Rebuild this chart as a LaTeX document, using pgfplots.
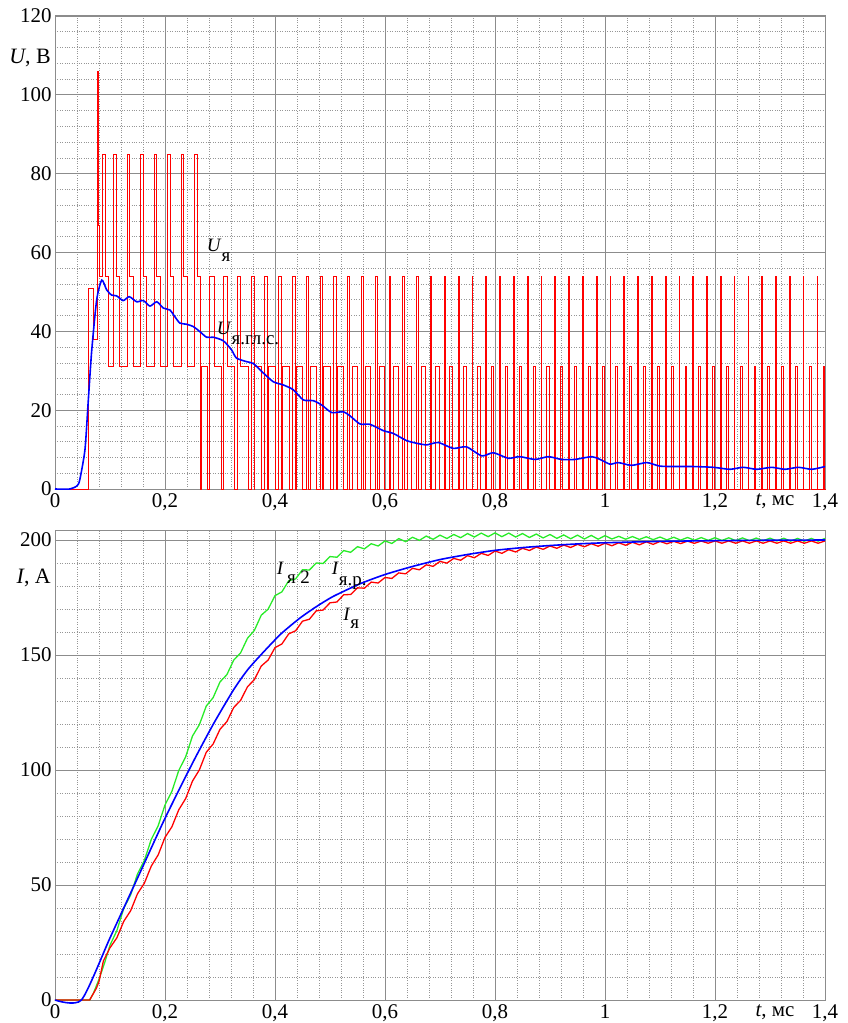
\documentclass[border=0pt]{standalone}
\usepackage{fontspec}
\setmainfont{Liberation Serif}
\newfontfamily\tnr{Liberation Serif}
\usepackage{pgfplots}
\pgfplotsset{compat=1.18}
\definecolor{gridmaj}{RGB}{140,140,140}
\definecolor{gridmin}{RGB}{150,150,150}
\definecolor{mygreen}{RGB}{40,235,40}
\definecolor{myred}{RGB}{255,0,0}
\definecolor{myblue}{RGB}{0,0,255}
\newcommand{\lab}{\tnr\fontsize{21}{24}\selectfont}
\newcommand{\ann}{\tnr\fontsize{19}{22}\selectfont}
\pgfplotsset{myax/.style={
  scale only axis, width=770bp, xmin=0, xmax=1.4,
  xtick={0,0.2,0.4,0.6,0.8,1,1.2,1.4},
  minor x tick num=4, minor y tick num=4,
  grid=both,
  major grid style={draw=gridmaj, line width=0.7pt},
  minor grid style={draw=gridmin, dotted, line width=0.6pt},
  axis line style={draw=gridmaj, line width=1pt},
  tick style={draw=none},
  tick label style={font=\lab},
  xticklabel style={yshift=-1.5bp},
  /pgf/number format/use comma,
  /pgf/number format/assume math mode=true,
  clip=false,
}}
\begin{document}
\begin{tikzpicture}[x=1bp,y=1bp]
\begin{axis}[myax, at={(0,0)}, anchor=south west, height=473bp,
  ymin=0, ymax=120, ytick={0,20,40,60,80,100,120}]
\addplot[myred, line width=0.7pt, const plot mark left] coordinates {
(0,0) (0.0606,51) (0.0697,38) (0.0765,106) (0.0785,67) (0.0815,54)
(0.086,85) (0.0908,54) (0.0968,31)
(0.106,85) (0.1108,54) (0.1168,31)
(0.131,85) (0.1358,54) (0.1418,31)
(0.1555,85) (0.1603,54) (0.1663,31)
(0.180,85) (0.1848,54) (0.1908,31)
(0.2045,85) (0.2093,54) (0.2153,31)
(0.229,85) (0.2338,54) (0.2398,31)
(0.2535,85) (0.2583,54) (0.264,0) (0.266,31) (0.277,0)
(0.281,54) (0.290,31) (0.303,0)
(0.3061,54) (0.3126,31) (0.3261,0)
(0.3312,54) (0.3372,31) (0.3507,0)
(0.3563,54) (0.3618,0) (0.3621,31) (0.3756,0)
(0.3814,54) (0.3864,0) (0.3874,31) (0.4004,0)
(0.4065,54) (0.4115,0) (0.4128,31) (0.4253,0)
(0.4316,54) (0.4361,0) (0.4381,31) (0.4501,0)
(0.4567,54) (0.4612,0) (0.4635,31) (0.4750,0)
(0.4818,54) (0.4858,0) (0.4888,31) (0.4998,0)
(0.5069,54) (0.5109,0) (0.5142,31) (0.5247,0)
(0.5320,54) (0.5355,0) (0.5398,31) (0.5493,0)
(0.5571,54) (0.5606,0) (0.5651,31) (0.5741,0)
(0.5822,54) (0.5852,0) (0.5905,31) (0.5990,0)
(0.6073,54) (0.6103,0) (0.6158,31) (0.6238,0)
(0.6324,54) (0.6349,0) (0.6412,31) (0.6487,0)
(0.6575,54) (0.6600,0) (0.6665,31) (0.6735,0)
(0.6826,54) (0.6848,0) (0.6919,31) (0.6984,0)
(0.7077,54) (0.7097,0) (0.7172,31) (0.7232,0)
(0.7328,54) (0.7348,0) (0.7426,31) (0.7481,0)
(0.7579,54) (0.7596,0) (0.7682,31) (0.7727,0)
(0.7830,54) (0.7847,0) (0.7933,31) (0.7978,0)
(0.8081,54) (0.8096,0) (0.8186,31) (0.8226,0)
(0.8332,54) (0.8347,0) (0.8437,31) (0.8477,0)
(0.8583,54) (0.8598,0) (0.8688,31) (0.8728,0)
(0.8834,54) (0.8849,0) (0.8939,31) (0.8979,0)
(0.9085,54) (0.9100,0) (0.9190,31) (0.9230,0)
(0.9336,54) (0.9351,0) (0.9441,31) (0.9481,0)
(0.9587,54) (0.9602,0) (0.9692,31) (0.9732,0)
(0.9838,54) (0.9853,0) (0.9943,31) (0.9983,0)
(1.0089,54) (1.0103,0) (1.0197,31) (1.0232,0)
(1.0340,54) (1.0354,0) (1.0448,31) (1.0483,0)
(1.0591,54) (1.0605,0) (1.0699,31) (1.0734,0)
(1.0842,54) (1.0856,0) (1.0950,31) (1.0985,0)
(1.1093,54) (1.1107,0) (1.1201,31) (1.1236,0)
(1.1344,54) (1.1358,0) (1.1452,31) (1.1487,0)
(1.1595,54) (1.1609,0) (1.1703,31) (1.1738,0)
(1.1846,54) (1.1860,0) (1.1954,31) (1.1989,0)
(1.2097,54) (1.2109,0) (1.2207,31) (1.2237,0)
(1.2348,54) (1.2360,0) (1.2458,31) (1.2488,0)
(1.2599,54) (1.2611,0) (1.2709,31) (1.2739,0)
(1.2850,54) (1.2862,0) (1.2960,31) (1.2990,0)
(1.3101,54) (1.3113,0) (1.3211,31) (1.3241,0)
(1.3352,54) (1.3364,0) (1.3462,31) (1.3492,0)
(1.3603,54) (1.3615,0) (1.3713,31) (1.3743,0)
(1.3854,54) (1.3866,0) (1.3964,31) (1.3994,0)
(1.4,0)
};
\addplot[myblue, line width=1.6pt, smooth, tension=0.4] coordinates {
(0,0) (0.027,0) (0.04,0.8) (0.045,2.3) (0.0545,10) (0.0606,22.6) (0.0667,35)
(0.0758,48) (0.085,53) (0.094,50.5) (0.103,49.2) (0.112,49) (0.124,47.8)
(0.135,48.8) (0.1485,47.5) (0.1606,47.8) (0.1727,46.4) (0.185,47.5) (0.197,45.9)
(0.209,45.4) (0.218,43.7) (0.227,42.1) (0.239,41.8) (0.2515,41.2) (0.2636,39.9)
(0.2757,38.5) (0.288,38.5) (0.306,37.6) (0.321,35.3) (0.33,33.2) (0.3485,32.3)
(0.361,31.8) (0.379,29.4) (0.397,27.2) (0.415,26.4) (0.433,25.2) (0.4515,22.6)
(0.4697,22.4) (0.485,21.3) (0.503,19.4) (0.524,19.6) (0.536,18.6) (0.5545,16.5)
(0.573,16.4) (0.597,14.8) (0.615,14.1) (0.639,12.3) (0.6576,11.6) (0.676,11.2)
(0.697,11.8) (0.724,10.3) (0.748,10.7) (0.776,8.4) (0.797,9.2) (0.824,7.8)
(0.845,8.2) (0.873,7.5) (0.897,8.2) (0.921,7.5) (0.945,7.5) (0.976,8.2)
(0.991,7.5) (1.009,6.3) (1.024,6.7) (1.0485,6.0) (1.076,6.7) (1.1,5.8)
(1.13,5.7) (1.16,5.7) (1.197,5.5) (1.227,5.0) (1.251,5.5) (1.276,5.0)
(1.303,5.5) (1.327,5.0) (1.3515,5.5) (1.376,5.0) (1.4,5.7)
};
\node[anchor=base west, inner sep=0, font=\ann] at (axis cs:0.2758,60.2) {\textit{U}\raisebox{-10bp}{я}};
\node[anchor=base west, inner sep=0, font=\ann] at (axis cs:0.294,39.1) {\textit{U}\raisebox{-10bp}{я.гл.с.}};
\node[anchor=east, inner sep=0, font=\tnr\fontsize{22}{26}\selectfont] at ([xshift=-4bp]axis cs:0,109.4) {\textit{U}, В};
\node[anchor=north, font=\lab, yshift=-1.5bp] at (axis cs:1.309,0) {\textit{t}, мс};
\end{axis}
\begin{axis}[myax, at={(0,-41bp)}, anchor=north west, height=470bp,
  ymin=0, ymax=204.35, ytick={0,50,100,150,200}]
\addplot[mygreen, line width=1.3pt] coordinates {
(0,0) (0.063,0) (0.07,3) (0.08,9) (0.09,16) (0.1,23.8) (0.1125,30.2) (0.125,39.8)
(0.1375,45.7) (0.15,54.8) (0.1625,60.7) (0.175,69.8) (0.1875,75.7) (0.2,84.8)
(0.2125,90.7) (0.225,99.8) (0.2375,105.7) (0.25,114.8) (0.2625,119.7) (0.275,127.8)
(0.2875,131.45) (0.3,138.3) (0.3125,141.45) (0.325,147.8) (0.3375,150.95) (0.35,157.3)
(0.3625,160.7) (0.375,167.3) (0.3875,169.95) (0.4,175.8) (0.4125,177.45) (0.425,182.3)
(0.4375,183.1) (0.45,187.1) (0.4625,186.95) (0.475,190) (0.4875,189.8) (0.5,192.8)
(0.5125,192.5) (0.525,195.4) (0.5375,194.65) (0.55,197.1) (0.5625,196.15) (0.575,198.4)
(0.5875,197.4) (0.6,199.6) (0.6125,198.5) (0.625,200.6) (0.6375,199.3) (0.65,201.2)
(0.6625,199.85) (0.675,201.7) (0.6875,200.3) (0.7,202.1) (0.7125,200.65) (0.725,202.4)
(0.7375,201) (0.75,202.8) (0.7625,201.3) (0.775,203) (0.7875,201.45) (0.8,203.1)
(0.8125,201.45) (0.825,203) (0.8375,201.3) (0.85,202.8) (0.8625,201.1) (0.875,202.6)
(0.8875,200.9) (0.9,202.4) (0.9125,200.7) (0.925,202.2) (0.9375,200.55) (0.95,202.1)
(0.9625,200.45) (0.975,202) (0.9875,200.35) (1,201.9) (1.0125,200.45) (1.025,201.6)
(1.0375,200.35) (1.05,201.5) (1.0625,200.25) (1.075,201.4) (1.0875,200.15) (1.1,201.3)
(1.1125,200.05) (1.125,201.2) (1.1375,199.95) (1.15,201.1) (1.1625,199.9) (1.175,201.05)
(1.1875,199.85) (1.2,201) (1.2125,199.8) (1.225,200.95) (1.2375,199.75) (1.25,200.9)
(1.2625,199.7) (1.275,200.85) (1.2875,199.65) (1.3,200.8) (1.3125,199.6) (1.325,200.75)
(1.3375,199.5) (1.35,200.7) (1.3625,199.5) (1.375,200.7) (1.3875,199.5) (1.4,200.7)
};
\addplot[myred, line width=1.3pt] coordinates {
(0,0) (0.063,0) (0.075,5) (0.08,8) (0.088,17) (0.1,22.7) (0.1125,27.05) (0.125,34.2)
(0.1375,38.8) (0.15,46.2) (0.1625,50.8) (0.175,58.2) (0.1875,63.05) (0.2,70.7)
(0.2125,75.3) (0.225,82.7) (0.2375,87.55) (0.25,95.2) (0.2625,100.05) (0.275,107.7)
(0.2875,111.3) (0.3,117.7) (0.3125,121.05) (0.325,127.2) (0.3375,130.3) (0.35,136.2)
(0.3625,139.3) (0.375,145.2) (0.3875,147.8) (0.4,153.2) (0.4125,154.8) (0.425,159.2)
(0.4375,160.55) (0.45,164.7) (0.4625,165.55) (0.475,169.2) (0.4875,169.55) (0.5,172.7)
(0.5125,173.05) (0.525,176.2) (0.5375,176.3) (0.55,179.2) (0.5625,179.05) (0.575,181.7)
(0.5875,181.3) (0.6,183.7) (0.6125,183.3) (0.625,185.7) (0.6375,185.3) (0.65,187.7)
(0.6625,187.05) (0.675,189.2) (0.6875,188.55) (0.7,190.7) (0.7125,189.95) (0.725,192)
(0.7375,191.2) (0.75,193.2) (0.7625,192.3) (0.775,194.2) (0.7875,193.3) (0.8,195.2)
(0.8125,194.2) (0.825,195.8) (0.8375,194.8) (0.85,196.4) (0.8625,195.45) (0.875,196.9)
(0.8875,195.95) (0.9,197.4) (0.9125,196.4) (0.925,197.8) (0.9375,196.75) (0.95,198.1)
(0.9625,197.05) (0.975,198.4) (0.9875,197.3) (1,198.6) (1.0125,197.5) (1.025,198.8)
(1.0375,197.7) (1.05,199) (1.0625,197.9) (1.075,199.2) (1.0875,198.1) (1.1,199.4)
(1.1125,198.35) (1.125,199.4) (1.1375,198.45) (1.15,199.5) (1.1625,198.55) (1.175,199.55)
(1.1875,198.6) (1.2,199.6) (1.2125,198.6) (1.225,199.6) (1.2375,198.6) (1.25,199.6)
(1.2625,198.6) (1.275,199.6) (1.2875,198.6) (1.3,199.6) (1.3125,198.6) (1.325,199.6)
(1.3375,198.6) (1.35,199.6) (1.3625,198.6) (1.375,199.6) (1.3875,198.6) (1.4,199.6)
};
\addplot[myblue, line width=1.6pt, smooth, tension=0.4] coordinates {
(0,0) (0.048,0) (0.1,27) (0.15,53) (0.2,79) (0.25,103) (0.288,120) (0.325,135)
(0.35,143.5) (0.376,150.5) (0.41,159) (0.445,166) (0.475,171) (0.506,175.5)
(0.555,181) (0.6,185) (0.65,188.5) (0.7,191.5) (0.75,193.7) (0.8,195.5)
(0.85,196.7) (0.9,197.6) (0.95,198.3) (1,198.8) (1.1,199.4) (1.2,199.7)
(1.3,199.9) (1.4,200)
};
\node[anchor=base west, inner sep=0, font=\ann] at (axis cs:0.403,184.8) {\textit{I}\raisebox{-9bp}{\,я 2}};
\node[anchor=base west, inner sep=0, font=\ann] at (axis cs:0.503,184.8) {\textit{I}\raisebox{-11bp}{я.р.}};
\node[anchor=base west, inner sep=0, font=\ann] at (axis cs:0.524,165.2) {\textit{I}\raisebox{-8bp}{я}};
\node[anchor=east, inner sep=0, font=\tnr\fontsize{22}{26}\selectfont] at ([xshift=-4bp]axis cs:0,183.5) {\textit{I}, А};
\node[anchor=north, font=\lab, yshift=-1.5bp] at (axis cs:1.309,0) {\textit{t}, мс};
\end{axis}
\pgfresetboundingbox
\path[use as bounding box] (-55,-534) rectangle (793,489);
\end{tikzpicture}
\end{document}
